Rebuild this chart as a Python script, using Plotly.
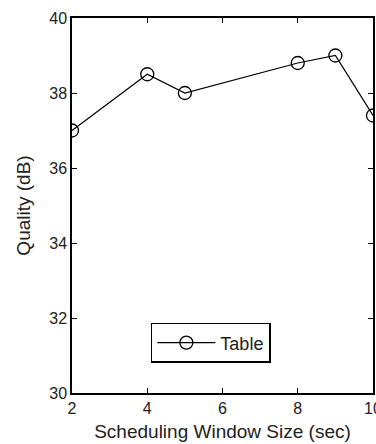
import plotly.graph_objects as go

window_size = [2, 4, 5, 8, 9, 10]
quality_db = [37.0, 38.5, 38.0, 38.8, 39.0, 37.4]
x_ticks = [2, 4, 6, 8, 10]
y_ticks = [30, 32, 34, 36, 38, 40]

family = "Liberation Sans, Arial, sans-serif"
tick_font = dict(family=family, size=16, color="#222222")
title_font = dict(family=family, size=19, color="#222222")
legend_font = dict(family=family, size=18, color="#222222")

fig = go.Figure()
fig.add_trace(go.Scatter(
    x=window_size, y=quality_db, name="Table",
    mode="lines+markers", showlegend=True,
    line=dict(color="black", width=1.2),
    marker=dict(symbol="circle-open", size=13, color="black", line=dict(width=1.3)),
))

axis_common = dict(
    showline=True, linecolor="black", linewidth=1.5, mirror="ticks",
    ticks="inside", ticklen=5, tickcolor="black", tickwidth=1,
    showgrid=False, zeroline=False, tickfont=tick_font,
    ticklabeloverflow="allow", automargin=False,
)
fig.update_xaxes(range=[2, 10], tickvals=x_ticks,
                 title=dict(text="Scheduling Window Size (sec)", font=title_font, standoff=9),
                 **axis_common)
fig.update_yaxes(range=[30, 40], tickvals=y_ticks,
                 title=dict(text="Quality (dB)", font=title_font, standoff=14),
                 **axis_common)

fig.update_layout(
    width=376, height=444,
    margin=dict(l=72, r=3, t=18, b=51, autoexpand=False),
    plot_bgcolor="white", paper_bgcolor="white",
    showlegend=True,
    legend=dict(x=0.262, y=0.187, xanchor="left", yanchor="top",
                bordercolor="black", borderwidth=1.5, bgcolor="white",
                font=legend_font, itemwidth=58),
)

fig.write_html("out.html")
